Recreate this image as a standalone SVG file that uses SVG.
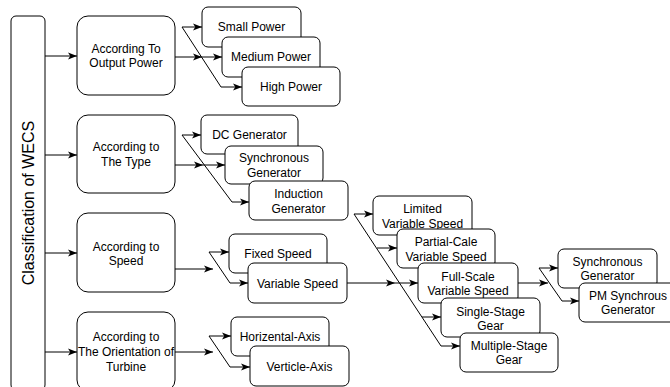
<svg xmlns="http://www.w3.org/2000/svg" width="670" height="387" viewBox="0 0 670 387">
<style>
.b{fill:#fff;stroke:#000;stroke-width:1}
.t{font-family:"Liberation Sans",Arial,sans-serif;font-size:12px;fill:#000;text-anchor:middle}
.c path{fill:none;stroke:#000;stroke-width:1;marker-end:url(#ah)}
</style>
<defs>
<marker id="ah" viewBox="0 0 10 10" refX="10" refY="5" markerWidth="9" markerHeight="9" markerUnits="userSpaceOnUse" orient="auto">
<path d="M0,1 L10,5 L0,9 L2.5,5 z" fill="#000"/>
</marker>
</defs>
<rect width="670" height="387" fill="#fff"/>
<g id="root">
<rect class="b" x="11" y="16" width="34" height="374" rx="5"/>
<text transform="translate(28,203) rotate(-90)" y="5.7" style="font-family:'Liberation Sans',Arial,sans-serif;font-size:16px;text-anchor:middle;fill:#000">Classification of WECS</text>
</g>
<g class="c" id="connectors">
<path d="M45,56 H77"/>
<path d="M45,155 H77"/>
<path d="M45,253 H77"/>
<path d="M45,352 H77"/>
<path d="M175,57 H202"/>
<path d="M202,57 H222"/>
<path d="M182,27 H202"/>
<path d="M182,27 L221,87 H242"/>
<path d="M175,165 H203"/>
<path d="M203,165 H225"/>
<path d="M182,135 H201"/>
<path d="M182,135 L232,202 H249"/>
<path d="M175,269 H213"/>
<path d="M209,252 H229"/>
<path d="M209,252 L230,283 H248"/>
<path d="M175,352 H213"/>
<path d="M209,336 H231"/>
<path d="M209,336 L230,367 H250"/>
<path d="M347,283 H395"/>
<path d="M395,283 H418"/>
<path d="M354,214 H373"/>
<path d="M354,214 L441,346 H460"/>
<path d="M377,248 H397"/>
<path d="M422,317 H441"/>
<path d="M518,283 H548"/>
<path d="M539,268 H558"/>
<path d="M539,268 L562,301 H579"/>
</g>
<g id="n-output">
<rect class="b" x="77" y="16" width="98" height="79" rx="11"/>
<text class="t" x="126" y="53">According To</text>
<text class="t" x="126" y="67">Output Power</text>
</g>
<g id="n-type">
<rect class="b" x="77" y="115" width="98" height="78" rx="11"/>
<text class="t" x="126" y="151">According to</text>
<text class="t" x="126" y="166">The Type</text>
</g>
<g id="n-speed">
<rect class="b" x="77" y="213" width="98" height="79" rx="11"/>
<text class="t" x="126" y="250.5">According to</text>
<text class="t" x="126" y="265">Speed</text>
</g>
<g id="n-orient">
<rect class="b" x="77" y="312" width="98" height="79" rx="11"/>
<text class="t" x="126" y="341">According to</text>
<text class="t" x="126" y="356">The Orientation of</text>
<text class="t" x="126" y="370.5">Turbine</text>
</g>
<g id="n-small">
<rect class="b" x="202" y="7" width="99" height="40" rx="6"/>
<text class="t" x="251.5" y="31">Small Power</text>
</g>
<g id="n-medium">
<rect class="b" x="222" y="37" width="98" height="40" rx="6"/>
<text class="t" x="271" y="61">Medium Power</text>
</g>
<g id="n-high">
<rect class="b" x="242" y="67" width="98" height="39" rx="6"/>
<text class="t" x="291" y="91">High Power</text>
</g>
<g id="n-dc">
<rect class="b" x="201" y="115" width="97" height="39" rx="6"/>
<text class="t" x="249.5" y="139">DC Generator</text>
</g>
<g id="n-sync1">
<rect class="b" x="225" y="146" width="98" height="38" rx="6"/>
<text class="t" x="274" y="161.5">Synchronous</text>
<text class="t" x="274" y="177">Generator</text>
</g>
<g id="n-induction">
<rect class="b" x="249" y="181" width="99" height="39" rx="6"/>
<text class="t" x="298.5" y="197.5">Induction</text>
<text class="t" x="298.5" y="212.5">Generator</text>
</g>
<g id="n-fixed">
<rect class="b" x="229" y="234" width="98" height="39" rx="6"/>
<text class="t" x="278" y="257.5">Fixed Speed</text>
</g>
<g id="n-variable">
<rect class="b" x="248" y="263" width="99" height="40" rx="6"/>
<text class="t" x="297.5" y="287.5">Variable Speed</text>
</g>
<g id="n-horiz">
<rect class="b" x="231" y="317" width="98" height="39" rx="6"/>
<text class="t" x="280" y="341">Horizental-Axis</text>
</g>
<g id="n-vert">
<rect class="b" x="250" y="346" width="99" height="40" rx="6"/>
<text class="t" x="299.5" y="370.5">Verticle-Axis</text>
</g>
<g id="n-limited">
<rect class="b" x="373" y="196" width="99" height="39" rx="6"/>
<text class="t" x="422.5" y="213">Limited</text>
<text class="t" x="422.5" y="227.5">Variable Speed</text>
</g>
<g id="n-partial">
<rect class="b" x="397" y="229" width="98" height="39" rx="6"/>
<text class="t" x="446" y="246">Partial-Cale</text>
<text class="t" x="446" y="261">Variable Speed</text>
</g>
<g id="n-full">
<rect class="b" x="418" y="263" width="100" height="40" rx="6"/>
<text class="t" x="468" y="280.5">Full-Scale</text>
<text class="t" x="468" y="295">Variable Speed</text>
</g>
<g id="n-single">
<rect class="b" x="441" y="298" width="99" height="39" rx="6"/>
<text class="t" x="490.5" y="315.5">Single-Stage</text>
<text class="t" x="490.5" y="330">Gear</text>
</g>
<g id="n-multiple">
<rect class="b" x="460" y="333" width="98" height="39" rx="6"/>
<text class="t" x="509" y="350">Multiple-Stage</text>
<text class="t" x="509" y="364">Gear</text>
</g>
<g id="n-sync2">
<rect class="b" x="558" y="249" width="99" height="39" rx="6"/>
<text class="t" x="607.5" y="266">Synchronous</text>
<text class="t" x="607.5" y="280">Generator</text>
</g>
<g id="n-pm">
<rect class="b" x="579" y="283" width="98" height="39" rx="6"/>
<text class="t" x="628" y="299.5">PM Synchrous</text>
<text class="t" x="628" y="314">Generator</text>
</g>
</svg>
